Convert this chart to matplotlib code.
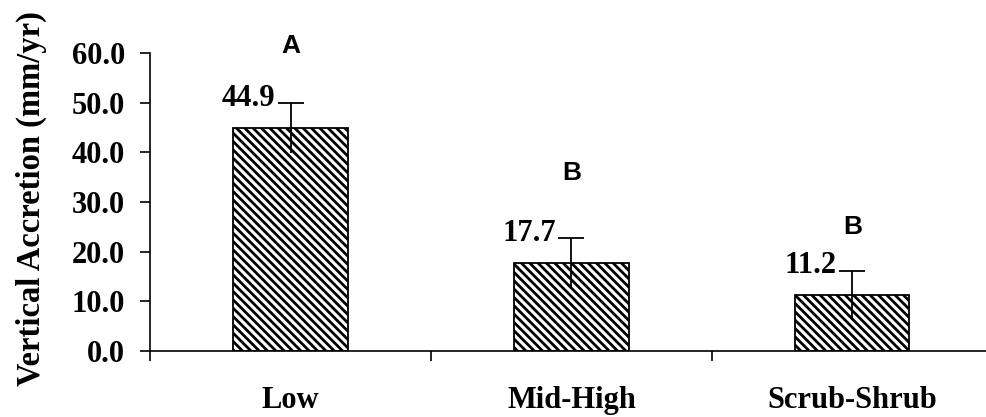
import matplotlib
matplotlib.use("Agg")
import matplotlib.pyplot as plt
import numpy as np

# --- DATA ---
zones = ['Low', 'Mid-High', 'Scrub-Shrub']
accretion = [44.9, 17.7, 11.2]
std_err = [5.0, 5.0, 5.0]
letters = ['A', 'B', 'B']
letter_y = [61.3, 35.8, 25.0]

plt.rcParams['hatch.linewidth'] = 2.0
serif = ['Liberation Serif', 'DejaVu Serif']

fig = plt.figure(figsize=(9.87, 4.17), dpi=100)
ax = fig.add_axes([0.152, 0.158, 0.854, 0.715])

x = np.arange(len(zones))
ax.bar(x, accretion, width=0.406, color='white', edgecolor='black',
       linewidth=1.3, hatch='\\\\\\\\', zorder=2)

eb = ax.errorbar(x, accretion, yerr=std_err, fmt='none', ecolor='black',
                 elinewidth=1.3, capsize=9.5, capthick=1.3, zorder=3)
eb[1][0].set_visible(False)  # only the upper cap, like the original

for i, v in enumerate(accretion):
    ax.text(i - 0.055, v + std_err[i] + 1.0, f'{v:.1f}', ha='right', va='center',
            fontsize=22, fontweight='bold', family=serif)
    ax.text(i, letter_y[i], letters[i], ha='center', va='center',
            fontsize=19, fontweight='bold', family='Liberation Sans')

ax.set_xlim(-0.5, len(zones) - 0.5)
ax.set_ylim(0, 60)
ax.set_yticks(np.arange(0, 61, 10))
ax.set_yticklabels([f'{t:.1f}' for t in np.arange(0, 61, 10)],
                   fontsize=22, fontweight='bold', family=serif)
ax.set_xticks(x)
ax.set_xticklabels(zones, fontsize=22, fontweight='bold', family=serif)
ax.set_xticks(np.arange(-0.5, len(zones), 1), minor=True)
ax.tick_params(axis='x', which='major', length=0, pad=25)
ax.tick_params(axis='x', which='minor', length=7, width=1.2, direction='out')
ax.tick_params(axis='y', length=7, width=1.2, pad=11)

ax.set_ylabel('Vertical Accretion (mm/yr)', fontsize=23.5, fontweight='bold',
              family=serif)
ax.yaxis.set_label_coords(-0.122, 0.51)

for s in ['top', 'right']:
    ax.spines[s].set_visible(False)
for s in ['left', 'bottom']:
    ax.spines[s].set_linewidth(1.2)

plt.savefig('out.png', dpi=100)
